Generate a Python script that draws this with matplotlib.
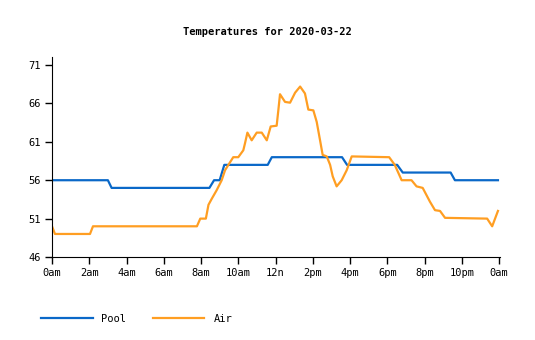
import matplotlib
matplotlib.use("Agg")
import matplotlib.pyplot as plt

# hours since midnight, temperature readings
pool_hours = [0, 3.0, 3.2, 8.45, 8.7, 9.0, 9.25, 11.58, 11.8, 15.57, 15.84,
              18.53, 18.83, 21.4, 21.63, 23.94]
pool_temps = [56, 56, 55, 55, 56, 56, 58, 58, 59, 59, 58, 58, 57, 57, 56, 56]

air_hours = [0, 0.16, 2.04, 2.2, 7.78, 7.96, 8.26, 8.4, 8.58, 8.84, 9.11, 9.29,
             9.47, 9.73, 10.0, 10.27, 10.36, 10.49, 10.72, 10.99, 11.26, 11.53,
             11.74, 12.06, 12.15, 12.24, 12.51, 12.78, 13.05, 13.32, 13.58,
             13.76, 14.03, 14.21, 14.39, 14.53, 14.75, 14.93, 15.07, 15.28,
             15.55, 15.82, 16.09, 18.1, 18.4, 18.77, 19.3, 19.57, 19.9, 20.29,
             20.56, 20.83, 21.1, 23.36, 23.63, 23.94]
air_temps = [50, 49, 49, 50, 50, 51, 51, 52.8, 53.6, 54.7, 56, 57.3,
             58, 59, 59, 59.9, 60.8, 62.2, 61.2, 62.2, 62.2, 61.2,
             63, 63.1, 65.1, 67.2, 66.2, 66.1, 67.4, 68.2, 67.3,
             65.2, 65.1, 63.6, 61.2, 59.3, 59.1, 58, 56.5, 55.2,
             56, 57.3, 59.1, 59, 58, 56, 56, 55.2, 55, 53.2,
             52.1, 52, 51.1, 51, 50, 52]

tick_hours = list(range(0, 25, 2))
tick_labels = ["0am", "2am", "4am", "6am", "8am", "10am", "12n",
               "2pm", "4pm", "6pm", "8pm", "10pm", "0am"]
y_ticks = [46, 51, 56, 61, 66, 71]

plt.rcParams["font.family"] = "DejaVu Sans Mono"
plt.rcParams["font.size"] = 7.5

fig = plt.figure(figsize=(5.35, 3.4), dpi=100)
ax = fig.add_axes([52 / 535, 1 - 257 / 340, 448 / 535, 200 / 340])

ax.plot(pool_hours, pool_temps, color="#0a68c8", lw=1.6, label="Pool")
ax.plot(air_hours, air_temps, color="#ff9e22", lw=1.6, label="Air")

ax.set_xlim(0, 24.05)
ax.set_ylim(46, 72.05)
ax.set_xticks(tick_hours)
ax.set_xticklabels(tick_labels)
ax.set_yticks(y_ticks)
ax.spines["top"].set_visible(False)
ax.spines["right"].set_visible(False)
ax.tick_params(length=5, width=1, colors="black", pad=3)

fig.suptitle("Temperatures for 2020-03-22", y=0.92, fontsize=7.5,
             fontweight="bold")

fig.legend(loc="lower left", bbox_to_anchor=(0.06, 0.02), ncol=2,
           frameon=False, handlelength=4.9, columnspacing=2.6,
           handletextpad=0.85)

fig.savefig("out.png", dpi=100)
